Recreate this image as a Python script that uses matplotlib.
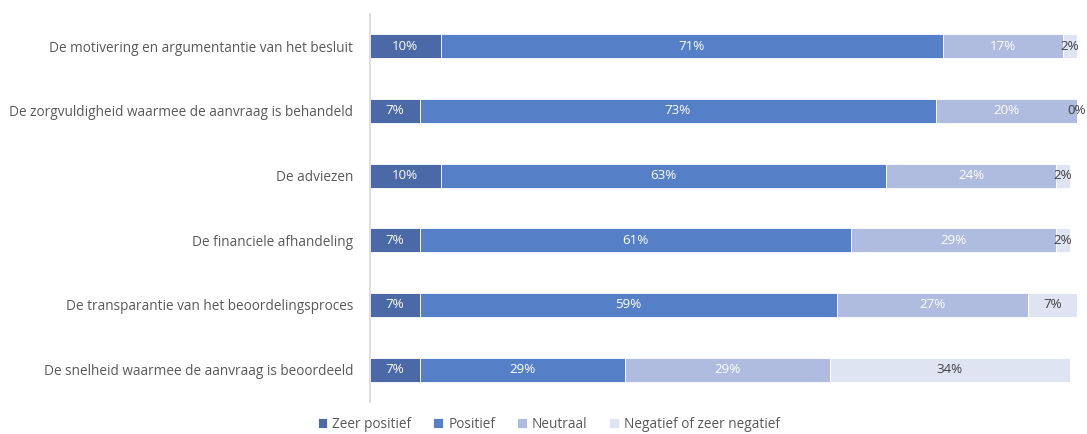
import matplotlib.pyplot as plt
import numpy as np

categories = [
    'De motivering en argumentantie van het besluit',
    'De zorgvuldigheid waarmee de aanvraag is behandeld',
    'De adviezen',
    'De financiele afhandeling',
    'De transparantie van het beoordelingsproces',
    'De snelheid waarmee de aanvraag is beoordeeld',
]
zeer_positief = [10, 7, 10, 7, 7, 7]
positief = [71, 73, 63, 61, 59, 29]
neutraal = [17, 20, 24, 29, 27, 29]
negatief = [2, 0, 2, 2, 7, 34]

series = ['Zeer positief', 'Positief', 'Neutraal', 'Negatief of zeer negatief']
colors = ['#4A69A6', '#5580C8', '#AFBBDF', '#DEE4F2']
text_colors = ['white', 'white', 'white', '#404040']

plt.rcParams['font.family'] = ['Open Sans', 'DejaVu Sans']

fig = plt.figure(figsize=(10.87, 4.34), dpi=100)
ax = fig.add_axes([0.3404, 0.074, 0.6504, 0.894])

y = np.arange(len(categories))
left = np.zeros(len(categories))
for name, vals, col, tcol in zip(series, [zeer_positief, positief, neutraal, negatief],
                                 colors, text_colors):
    vals = np.array(vals, dtype=float)
    ax.barh(y, vals, left=left, height=0.37, color=col, edgecolor='white',
            linewidth=0.6, label=name)
    for yi, l, v in zip(y, left, vals):
        ax.text(l + v / 2, yi, f'{int(v)}%', ha='center', va='center',
                fontsize=9.6, color=tcol)
    left += vals

ax.set_xlim(0, 100)
ax.set_ylim(len(categories) - 0.5, -0.5)
ax.set_yticks(y)
ax.set_yticklabels(categories, fontsize=9.85, color='#595959')
ax.set_xticks([])
ax.tick_params(axis='y', length=0, pad=12)
for side in ['top', 'right', 'bottom']:
    ax.spines[side].set_visible(False)
ax.spines['left'].set_color('#D9D9D9')
ax.spines['left'].set_linewidth(1.2)

fig.legend(loc='center', bbox_to_anchor=(0.505, 0.022), ncol=4,
           frameon=False, fontsize=9.8, handlelength=0.7, handleheight=0.7,
           handletextpad=0.4, columnspacing=1.6, labelcolor='#595959',
           borderpad=0)

fig.savefig('out.png', dpi=100)
